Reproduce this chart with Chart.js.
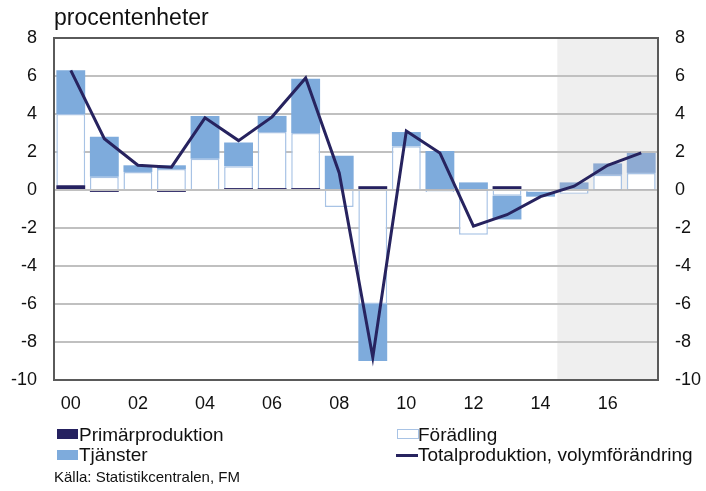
<!DOCTYPE html>
<html>
<head>
<meta charset="utf-8">
<script src="https://cdn.jsdelivr.net/npm/chart.js@4.4.0/dist/chart.umd.min.js"></script>
<style>
  body { margin: 0; background: #fff; font-family: "Liberation Sans", Arial, sans-serif; color: #111; }
  #wrap { position: relative; width: 706px; height: 491px; overflow: hidden; }
  #c { position: absolute; left: 0; top: 0; }
  .t { position: absolute; white-space: nowrap; line-height: 20px; }
  .sw { position: absolute; }
</style>
</head>
<body>
<div id="wrap">
  <canvas id="c" width="706" height="491"></canvas>
  <div class="t" style="left:54px; top:7px; font-size:23px;">procentenheter</div>

  <div class="sw" style="left:57px; top:429px; width:21px; height:10px; background:#252160;"></div>
  <div class="t" style="left:79px; top:425px; font-size:19px;">Primärproduktion</div>
  <div class="sw" style="left:397px; top:429px; width:20px; height:8px; background:#fff; border:1px solid #a8c3e5;"></div>
  <div class="t" style="left:418px; top:425px; font-size:19px;">Förädling</div>

  <div class="sw" style="left:57px; top:450px; width:21px; height:10px; background:#7eabdc;"></div>
  <div class="t" style="left:79px; top:445px; font-size:19px;">Tjänster</div>
  <div class="sw" style="left:396px; top:454px; width:22px; height:3px; background:#27235f;"></div>
  <div class="t" style="left:418px; top:445px; font-size:19px;">Totalproduktion, volymförändring</div>

  <div class="t" style="left:54px; top:467px; font-size:15px;">Källa: Statistikcentralen, FM</div>
</div>
<script>
// years 2000-2017
const years = ["00", "01", "02", "03", "04", "05", "06", "07", "08", "09",
  "10", "11", "12", "13", "14", "15", "16", "17"];
const tickLabels = ["00", "", "02", "", "04", "", "06", "", "08", "",
  "10", "", "12", "", "14", "", "16", ""];

const primar = [0.25, -0.1, 0, -0.1, 0, 0.1, 0.1, 0.1, 0, 0.2,
  0, 0.05, -0.05, 0.2, 0, 0, 0.05, 0.05];
const foradling = [3.75, 0.7, 0.95, 1.1, 1.65, 1.15, 2.95, 2.9, -0.9, -6.0,
  2.3, -0.1, -2.3, -0.3, -0.1, -0.2, 0.75, 0.85];
const tjanster = [2.3, 2.1, 0.35, 0.2, 2.25, 1.25, 0.85, 2.85, 1.8, -3.0,
  0.75, 2.0, 0.4, -1.25, -0.25, 0.4, 0.6, 1.05];
const total = [6.3, 2.7, 1.3, 1.2, 3.8, 2.6, 3.85, 5.9, 0.9, -8.8,
  3.1, 1.95, -1.9, -1.3, -0.35, 0.2, 1.3, 1.95];

const forecastFrom = 15; // index of 2015

const shade = {
  id: "shade",
  beforeDraw(chart) {
    const x = chart.scales.x;
    const area = chart.chartArea;
    const left = (x.getPixelForValue(forecastFrom - 1) + x.getPixelForValue(forecastFrom)) / 2;
    const ctx = chart.ctx;
    ctx.save();
    ctx.fillStyle = "#efefef";
    ctx.fillRect(left, area.top, area.right - left, area.bottom - area.top);
    ctx.restore();
  },
};

const dark = "#5a5a5a";
const tickFont = { family: "Liberation Sans, Arial, sans-serif", size: 18 };

new Chart(document.getElementById("c"), {
  data: {
    labels: years,
    datasets: [
      {
        type: "line",
        label: "Totalproduktion, volymförändring",
        data: total,
        borderColor: "#27235f",
        borderWidth: 3,
        pointRadius: 0,
        tension: 0,
        stack: "line",
        order: 0,
      },
      {
        type: "bar",
        label: "Primärproduktion",
        data: primar,
        backgroundColor: "#252160",
        stack: "bars",
        order: 1,
      },
      {
        type: "bar",
        label: "Förädling",
        data: foradling,
        backgroundColor: "#ffffff",
        borderColor: "#a8c3e5",
        borderWidth: 1.5,
        stack: "bars",
        order: 1,
      },
      {
        type: "bar",
        label: "Tjänster",
        data: tjanster,
        backgroundColor: (c) => (c.dataIndex >= forecastFrom ? "#8eabd3" : "#7eabdc"),
        stack: "bars",
        order: 1,
      },
    ],
  },
  options: {
    responsive: false,
    animation: false,
    layout: { padding: { top: 38, bottom: 0, left: 0, right: 0 } },
    plugins: { legend: { display: false }, tooltip: { enabled: false } },
    datasets: { bar: { categoryPercentage: 1, barPercentage: 0.86 } },
    scales: {
      x: {
        stacked: true,
        grid: { display: false, drawTicks: false },
        border: { display: true, color: dark, width: 2 },
        ticks: {
          color: "#111",
          font: tickFont,
          padding: 13,
          autoSkip: false,
          maxRotation: 0,
          callback: (v, i) => tickLabels[i],
        },
        afterFit: (s) => { s.height = 111; },
      },
      y: {
        stacked: true,
        min: -10,
        max: 8,
        position: "left",
        grid: {
          drawTicks: false,
          lineWidth: 2,
          color: (c) => (c.tick.value === 8 || c.tick.value === -10 ? dark : "#c0c0c0"),
        },
        border: { display: true, color: dark, width: 2 },
        ticks: { stepSize: 2, color: "#111", font: tickFont, padding: 17 },
        afterFit: (s) => { s.width = 54; },
      },
      y2: {
        min: -10,
        max: 8,
        position: "right",
        grid: { display: false, drawTicks: false },
        border: { display: true, color: dark, width: 2 },
        ticks: { stepSize: 2, color: "#111", font: tickFont, padding: 17 },
        afterFit: (s) => { s.width = 48; },
      },
    },
  },
  plugins: [shade],
});
</script>
</body>
</html>
